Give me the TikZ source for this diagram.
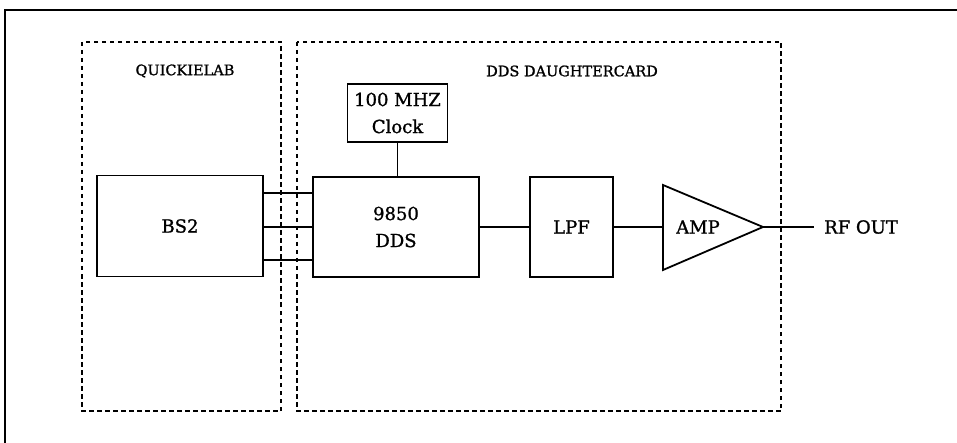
\documentclass[tikz,border=0pt]{standalone}
\usepackage{fontspec}
\setmainfont{DejaVu Serif}[BoldFont={DejaVu Serif}, BoldFeatures={FakeBold=1.2}]
\begin{document}
\begin{tikzpicture}[x=1pt,y=-1pt,
  box/.style={draw, line width=1.8pt, inner sep=0pt},
  region/.style={draw, line width=1.3pt, dash pattern=on 4.5pt off 3.5pt},
  wire/.style={draw, line width=1.8pt},
  lbl/.style={font=\fontsize{14.5}{17}\selectfont\bfseries, inner sep=0pt},
  txt/.style={font=\fontsize{18}{27}\selectfont\bfseries, align=center, inner sep=0pt}]
\useasboundingbox (0,0) rectangle (957,443);
% outer frame (cropped)
\draw[line width=1.3pt] (957,10) -- (5,10) -- (5,443);
% regions
\path[region] (82,42) rectangle (281,411);
\path[region] (297,42) rectangle (781,411);
\node[lbl] (qlab) at (185,71) {QUICKIELAB};
\node[lbl] (dlab) at (572,71) {DDS DAUGHTERCARD};
% boxes
\node[box, minimum width=166pt, minimum height=101pt] (bs2) at (180,226) {};
\node[txt] at (bs2) {BS2};
\node[box, minimum width=166pt, minimum height=100pt] (dds) at (396,227) {};
\node[txt] at (dds) {9850\\DDS};
\node[box, minimum width=100pt, minimum height=58pt] (clk) at (397.5,113) {};
\node[txt] at (clk) {100 MHZ\\Clock};
\node[box, minimum width=83pt, minimum height=100pt] (lpf) at (571.5,227) {};
\node[txt] at (lpf) {LPF};
% amplifier
\coordinate (aTop) at (663,185);
\coordinate (aBot) at (663,270);
\coordinate (aOut) at (763,227);
\coordinate (aIn) at (663,227);
\draw[line width=1.8pt, line join=miter] (aTop) -- (aOut) -- (aBot) -- cycle;
\node[txt] (amp) at (698,227) {AMP};
\coordinate (rfend) at (814,227);
\node[txt, anchor=west] (rf) at (824,227) {RF OUT};
% connections
\draw[wire] (clk.south) -- (clk.south |- dds.north);
\foreach \yy in {193,227,260}{
  \draw[wire, line width=1.5pt] (bs2.east |- 0,\yy) -- (dds.west |- 0,\yy);
}
\draw[wire] (dds.east |- 0,227) -- (lpf.west |- 0,227);
\draw[wire] (lpf.east |- 0,227) -- (aIn);
\draw[wire] (aOut) -- (rfend);
\end{tikzpicture}
\end{document}
